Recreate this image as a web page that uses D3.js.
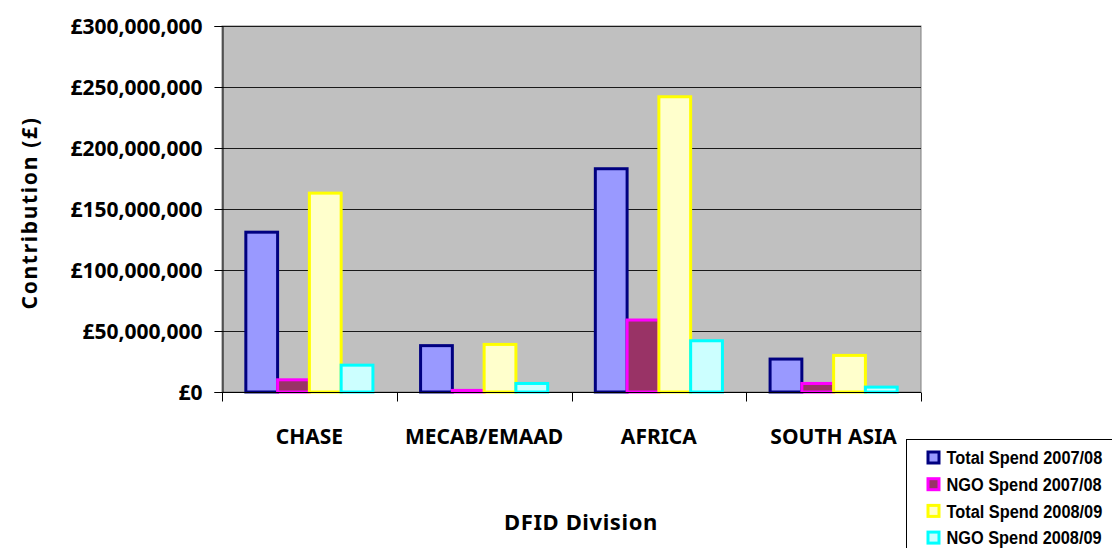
<!DOCTYPE html>
<html>
<head>
<meta charset="utf-8">
<script src="https://cdn.jsdelivr.net/npm/d3@7"></script>
<style>
  html, body { margin: 0; padding: 0; background: #ffffff; }
  svg { display: block; }
  .lbl { font-family: "Noto Sans", "Liberation Sans", sans-serif; font-weight: 700; fill: #000; }
  .leg { font-family: "Liberation Sans", sans-serif; font-weight: 700; fill: #000; }
</style>
</head>
<body>
<svg id="chart" width="1112" height="548"></svg>
<script>
// DFID divisional spend, 2007/08 vs 2008/09
const categories = ["CHASE", "MECAB/EMAAD", "AFRICA", "SOUTH ASIA"];
const seriesNames = ["Total Spend 2007/08", "NGO Spend 2007/08", "Total Spend 2008/09", "NGO Spend 2008/09"];
const total0708 = [131000000, 38000000, 183000000, 27000000];
const ngo0708   = [10000000, 1300000, 59000000, 7000000];
const total0809 = [163000000, 39000000, 242000000, 30000000];
const ngo0809   = [22000000, 7000000, 42000000, 4000000];
const yTicks = [0, 50000000, 100000000, 150000000, 200000000, 250000000, 300000000];

const fills   = ["#9999FF", "#993366", "#FFFFCC", "#CCFFFF"];
const strokes = ["#000080", "#FF00FF", "#FFFF00", "#00FFFF"];
const seriesValues = [total0708, ngo0708, total0809, ngo0809];

const svg = d3.select("#chart");
const plot = { left: 222, right: 921, top: 26, bottom: 392 };

const x = d3.scaleBand().domain(categories).range([plot.left, plot.right]).paddingInner(0).paddingOuter(0);
const bw = x.bandwidth();
const barW = bw / 5.5;              // four bars plus a 150% gap
const x1 = d3.scaleBand().domain(seriesNames).range([0.75 * barW, bw - 0.75 * barW]);
const y = d3.scaleLinear().domain([0, 300000000]).range([plot.bottom, plot.top]);

// plot background
svg.append("rect")
  .attr("x", plot.left).attr("y", plot.top)
  .attr("width", plot.right - plot.left).attr("height", plot.bottom - plot.top)
  .attr("fill", "#C0C0C0").attr("stroke", "#808080").attr("stroke-width", 1);

// horizontal gridlines
svg.append("g").selectAll("line").data(yTicks.filter(d => d > 0)).join("line")
  .attr("x1", plot.left).attr("x2", plot.right)
  .attr("y1", d => Math.round(y(d)) + 0.5).attr("y2", d => Math.round(y(d)) + 0.5)
  .attr("stroke", "#1a1a1a").attr("stroke-width", 1);

// bars
const rows = categories.map((c, i) => ({ cat: c, vals: seriesValues.map((s, k) => ({ name: seriesNames[k], k, v: s[i] })) }));
const groups = svg.append("g").selectAll("g").data(rows).join("g")
  .attr("transform", d => `translate(${x(d.cat)},0)`);
groups.selectAll("rect").data(d => d.vals).join("rect")
  .attr("x", d => x1(d.name))
  .attr("y", d => y(d.v))
  .attr("width", x1.bandwidth())
  .attr("height", d => y(0) - y(d.v))
  .attr("fill", d => fills[d.k])
  .attr("stroke", d => strokes[d.k])
  .attr("stroke-width", 3);

// y axis
const fmt = d3.format(",");
const yAxis = svg.append("g")
  .attr("transform", `translate(${plot.left + 0.5},0)`)
  .call(d3.axisLeft(y).tickValues(yTicks).tickSize(8).tickPadding(12).tickFormat(d => "£" + fmt(d)));
yAxis.select(".domain").attr("stroke", "#000");
yAxis.selectAll(".tick line").attr("stroke", "#000");
yAxis.selectAll(".tick text").attr("class", "lbl").attr("font-size", 21).attr("dy", "0.36em");

// x axis with ticks at category boundaries
const xAxis = svg.append("g").attr("transform", `translate(0,${plot.bottom + 0.5})`);
xAxis.append("line").attr("x1", plot.left).attr("x2", plot.right).attr("stroke", "#000");
xAxis.selectAll("line.tk").data(categories.map(c => x(c)).concat([plot.right])).join("line")
  .attr("class", "tk")
  .attr("x1", d => Math.round(d) + 0.5).attr("x2", d => Math.round(d) + 0.5)
  .attr("y1", 0).attr("y2", 9).attr("stroke", "#000");
xAxis.selectAll("text").data(categories).join("text")
  .attr("class", "lbl").attr("font-size", 21).attr("text-anchor", "middle")
  .attr("x", d => x(d) + bw / 2).attr("y", 51.5)
  .text(d => d);

// axis titles
svg.append("text").attr("class", "lbl").attr("font-size", 21)
  .attr("text-anchor", "middle").attr("letter-spacing", 1.7)
  .attr("transform", "translate(37,213) rotate(-90)")
  .text("Contribution (£)");
svg.append("text").attr("class", "lbl").attr("font-size", 22)
  .attr("text-anchor", "middle").attr("letter-spacing", 0.6)
  .attr("x", 581).attr("y", 530)
  .text("DFID Division");

// legend (runs off the bottom-right corner of the canvas)
const leg = svg.append("g").attr("transform", "translate(906.5,439.5)");
leg.append("rect").attr("width", 230).attr("height", 140).attr("fill", "#fff").attr("stroke", "#000").attr("stroke-width", 1);
const items = leg.selectAll("g").data(seriesNames).join("g")
  .attr("transform", (d, i) => `translate(0,${18 + i * 26.7})`);
items.append("rect").attr("x", 21.5).attr("y", -5.5).attr("width", 11).attr("height", 11)
  .attr("fill", (d, i) => fills[i]).attr("stroke", (d, i) => strokes[i]).attr("stroke-width", 3);
// condensed bold labels
items.append("text").attr("class", "leg").attr("font-size", 19)
  .attr("transform", "translate(40,0) scale(0.86,1)")
  .attr("dy", "0.36em")
  .text(d => d);
</script>
</body>
</html>
